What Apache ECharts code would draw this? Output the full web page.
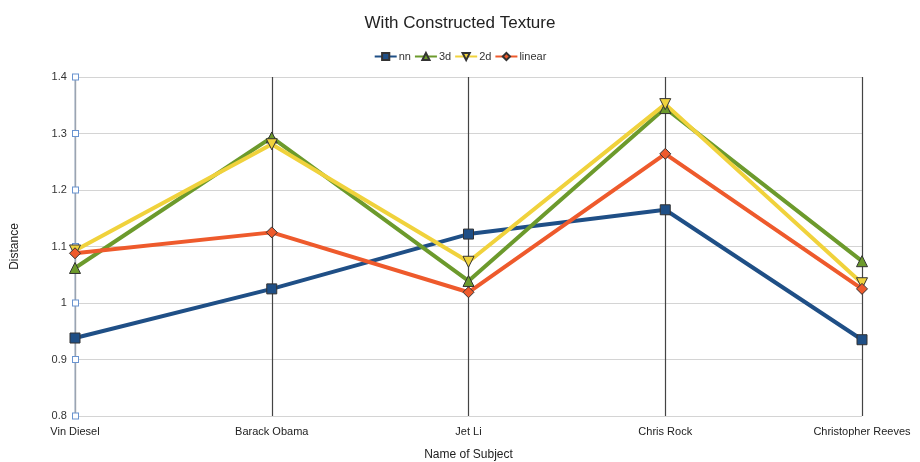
<!DOCTYPE html>
<html>
<head>
<meta charset="utf-8">
<script src="https://cdn.jsdelivr.net/npm/echarts@6/dist/echarts.min.js"></script>
<style>
  html, body { margin: 0; padding: 0; background: #fff; }
  #chart { width: 920px; height: 462px; }
</style>
</head>
<body>
<div id="chart"></div>
<script>
const subjects = ['Vin Diesel', 'Barack Obama', 'Jet Li', 'Chris Rock', 'Christopher Reeves']
const nnValues = [0.938, 1.025, 1.122, 1.165, 0.935]
const d3Values = [1.062, 1.293, 1.039, 1.345, 1.074]
const d2Values = [1.093, 1.281, 1.073, 1.352, 1.035]
const linearValues = [1.088, 1.125, 1.019, 1.264, 1.025]

const chart = echarts.init(document.getElementById('chart'))
const font = 'Liberation Sans, Arial, sans-serif'

const makeSeries = (name, data, color, symbol, rotate) => ({
  name,
  type: 'line',
  data,
  symbol,
  symbolSize: symbol === 'rect' ? 10 : 11,
  symbolRotate: rotate || 0,
  lineStyle: { color, width: 4 },
  itemStyle: { color, borderColor: '#333', borderWidth: 1 }
})

chart.setOption({
  animation: false,
  textStyle: { fontFamily: font },
  title: {
    text: 'With Constructed Texture',
    left: 'center',
    top: 10,
    textStyle: { fontSize: 17, fontWeight: 'normal', color: '#222', fontFamily: font }
  },
  legend: {
    top: 46,
    left: 'center',
    itemWidth: 22,
    itemHeight: 9,
    itemGap: 3,
    textStyle: { fontSize: 11, color: '#333', padding: [0, 0, 0, -3] },
    data: ['nn', '3d', '2d', 'linear']
  },
  grid: { left: 75, right: 58, top: 77, bottom: 46, containLabel: false, outerBoundsMode: 'none' },
  xAxis: {
    type: 'category',
    data: subjects,
    boundaryGap: false,
    name: 'Name of Subject',
    nameLocation: 'middle',
    nameGap: 33,
    nameTextStyle: { fontSize: 12, color: '#222' },
    axisLine: { show: false },
    axisTick: { show: false },
    axisLabel: { fontSize: 11, color: '#222', margin: 10 },
    splitLine: { show: true, lineStyle: { color: '#444', width: 1.2 } }
  },
  yAxis: {
    type: 'value',
    min: 0.8,
    max: 1.4,
    interval: 0.1,
    name: 'Distance',
    nameLocation: 'middle',
    nameGap: 54,
    nameTextStyle: { fontSize: 12, color: '#222' },
    axisLine: { show: true, lineStyle: { color: '#b8c4d4', width: 1.5 } },
    axisTick: { show: false },
    axisLabel: {
      fontSize: 11,
      color: '#333',
      margin: -3,
      formatter: v => Math.round(v * 10) / 10 + '  {sq|}',
      rich: {
        sq: { width: 5, height: 5, borderColor: '#6a94d0', borderWidth: 1, backgroundColor: '#fff' }
      }
    },
    splitLine: { show: true, lineStyle: { color: '#d4d4d4', width: 1 } }
  },
  series: [
    makeSeries('nn', nnValues, '#1f4f86', 'rect'),
    makeSeries('3d', d3Values, '#6c9a2c', 'triangle'),
    makeSeries('2d', d2Values, '#f0d23c', 'triangle', 180),
    makeSeries('linear', linearValues, '#ee5a2c', 'diamond')
  ]
})
</script>
</body>
</html>
